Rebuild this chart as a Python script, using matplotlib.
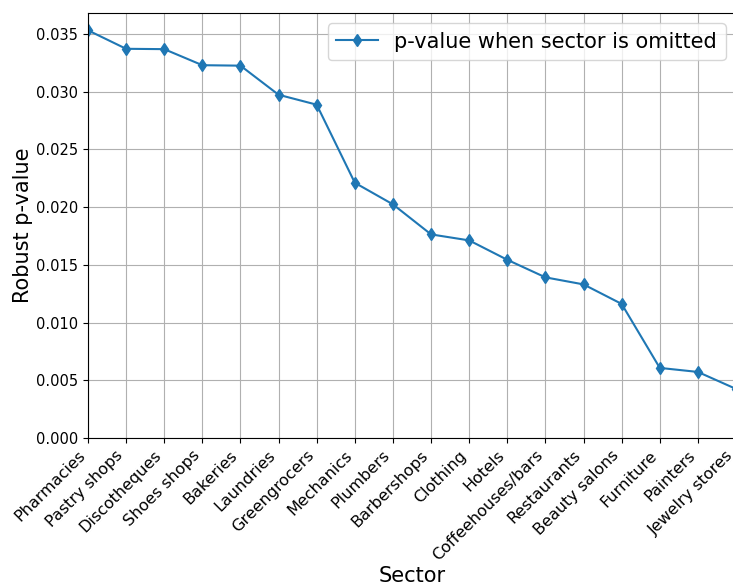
import matplotlib
matplotlib.use("Agg")
import matplotlib.pyplot as plt

sectors = ["Pharmacies", "Pastry shops", "Discotheques", "Shoes shops", "Bakeries",
           "Laundries", "Greengrocers", "Mechanics", "Plumbers", "Barbershops",
           "Clothing", "Hotels", "Coffeehouses/bars", "Restaurants", "Beauty salons",
           "Furniture", "Painters", "Jewelry stores"]
pvalues = [0.0353, 0.0337, 0.03367, 0.03228, 0.03224, 0.02972, 0.02886, 0.0221,
           0.02023, 0.01763, 0.01711, 0.01543, 0.01391, 0.0133, 0.01161, 0.00607,
           0.00572, 0.00425]
yticks = [0, 0.005, 0.01, 0.015, 0.02, 0.025, 0.03, 0.035]
ytick_labels = ["0.000", "0.005", "0.010", "0.015", "0.020", "0.025", "0.030", "0.035"]

fig = plt.figure(figsize=(7.33, 5.88), dpi=100)
ax = fig.add_axes([88/733, 1-438/588, (736-88)/733, (438-13)/588])
x = list(range(len(sectors)))
ax.plot(x, pvalues, marker='d', markersize=6, color='#1f77b4', linewidth=1.5,
        label='p-value when sector is omitted')
ax.set_xlim(0, len(sectors)-1)
ax.set_ylim(0, 0.0368)
ax.set_yticks(yticks)
ax.set_yticklabels(ytick_labels)
ax.set_xticks(x)
ax.set_xticklabels(sectors, rotation=45, ha='right')
ax.tick_params(axis='x', labelsize=11.5)
ax.tick_params(axis='y', labelsize=10.5)
ax.grid(True, color='#b0b0b0', linewidth=0.8)
ax.set_axisbelow(True)
ax.set_xlabel("Sector", fontsize=15, labelpad=2)
ax.set_ylabel("Robust p-value", fontsize=15, labelpad=2)
ax.legend(loc='upper right', fontsize=15)
fig.savefig("out.png", dpi=100)
